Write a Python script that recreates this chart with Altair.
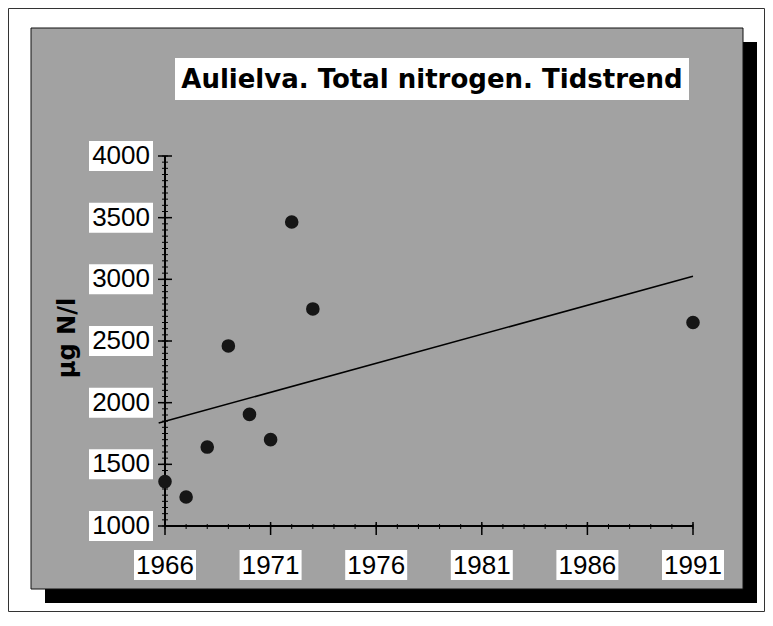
import altair as alt
import pandas as pd

# ---- data ----
years = [1966, 1967, 1968, 1969, 1970, 1971, 1972, 1973, 1991]
nitrogen = [1360, 1235, 1640, 2460, 1905, 1700, 3465, 2760, 2650]
trend_years = [1965.7, 1991]
trend_values = [1835, 3025]
x_ticks = [1966, 1971, 1976, 1981, 1986, 1991]
y_ticks = [1000, 1500, 2000, 2500, 3000, 3500, 4000]
y_minor = list(range(1000, 4001, 50))
x_minor = list(range(1966, 1992))
title_text = "Aulielva. Total nitrogen. Tidstrend"
y_title = "µg N/l"

W, H = 528, 370
xs = alt.Scale(domain=[1966, 1991], nice=False, zero=False)
ys = alt.Scale(domain=[1000, 4000], nice=False, zero=False)
one = alt.Data(values=[{"k": 1}])


def box(x1, x2, y1, y2, fill, stroke=None, sw=0):
    kw = dict(fill=fill)
    if stroke:
        kw.update(stroke=stroke, strokeWidth=sw)
    return alt.Chart(one).mark_rect(**kw).encode(
        x=alt.value(x1), x2=alt.value(x2), y=alt.value(y1), y2=alt.value(y2)
    )


frame = box(-156.5, 599.5, -147.5, 455.5, "white", "#333", 1)
shadow = box(-120, 592, -114, 447, "black")
panel = box(-134, 578, -128, 433, "#a2a2a2", "#111", 1)
title_box = box(10, 524, -98, -56, "white")
title = alt.Chart(one).mark_text(
    text=title_text, font="DejaVu Sans", fontWeight="bold", fontSize=26,
    align="center", baseline="middle", color="black"
).encode(x=alt.value(267), y=alt.value(-76))

ytitle = alt.Chart(one).mark_text(
    text=y_title, font="DejaVu Sans", fontWeight="bold", fontSize=24,
    align="center", baseline="middle", angle=270, color="black"
).encode(x=alt.value(-97), y=alt.value(182))

pts = pd.DataFrame({"year": years, "value": nitrogen})
trend = pd.DataFrame({"year": trend_years, "value": trend_values})
yt = pd.DataFrame({"v": y_ticks})
ym = pd.DataFrame({"v": y_minor})
xt = pd.DataFrame({"yr": x_ticks})
xm = pd.DataFrame({"yr": x_minor})

X = lambda f: alt.X(f, scale=xs, axis=None)
Y = lambda f: alt.Y(f, scale=ys, axis=None)

ylab_box = alt.Chart(yt).mark_rect(fill="white", yOffset=-15, y2Offset=15).encode(
    y=Y("v:Q"), y2=alt.Y2("v"), x=alt.value(-76), x2=alt.value(-12)
)
ylab = alt.Chart(yt).mark_text(
    align="right", baseline="middle", font="Liberation Sans", fontSize=26, color="black"
).encode(y=Y("v:Q"), x=alt.value(-15), text=alt.Text("v:Q", format="d"))

xlab_box = alt.Chart(xt).mark_rect(fill="white", xOffset=-31, x2Offset=31).encode(
    x=X("yr:Q"), x2=alt.X2("yr"), y=alt.value(394), y2=alt.value(424)
)
xlab = alt.Chart(xt).mark_text(
    align="center", baseline="middle", font="Liberation Sans", fontSize=26, color="black"
).encode(x=X("yr:Q"), y=alt.value(410), text=alt.Text("yr:Q", format="d"))

axis_df = pd.DataFrame({"x": [1966], "x2": [1991], "y": [1000], "y2": [4000]})
yaxis = alt.Chart(axis_df).mark_rule(color="black", strokeWidth=2).encode(
    x=X("x:Q"), y=Y("y:Q"), y2=alt.Y2("y2")
)
xaxis = alt.Chart(axis_df).mark_rule(color="black", strokeWidth=2).encode(
    y=Y("y:Q"), x=X("x:Q"), x2=alt.X2("x2")
)
ymaj = alt.Chart(yt).mark_rule(color="black", strokeWidth=1.5).encode(
    y=Y("v:Q"), x=alt.value(-7), x2=alt.value(7)
)
ymin = alt.Chart(ym).mark_rule(color="black", strokeWidth=1).encode(
    y=Y("v:Q"), x=alt.value(-3), x2=alt.value(3)
)
xmaj = alt.Chart(xt).mark_rule(color="black", strokeWidth=1.5).encode(
    x=X("yr:Q"), y=alt.value(H - 4), y2=alt.value(H + 9)
)
xmin = alt.Chart(xm).mark_rule(color="black", strokeWidth=1).encode(
    x=X("yr:Q"), y=alt.value(H - 2), y2=alt.value(H + 3)
)

line = alt.Chart(trend).mark_line(color="black", strokeWidth=1.6).encode(
    x=X("year:Q"), y=Y("value:Q")
)
points = alt.Chart(pts).mark_point(
    filled=True, shape="circle", size=185, color="#161616", opacity=1
).encode(x=X("year:Q"), y=Y("value:Q"))

chart = alt.layer(
    frame, shadow, panel, title_box, title, ytitle,
    ylab_box, ylab, xlab_box, xlab,
    yaxis, xaxis, ymin, ymaj, xmin, xmaj, line, points
).properties(
    width=W, height=H,
    padding={"left": 157, "top": 148, "right": 72, "bottom": 86},
    autosize=alt.AutoSizeParams(type="none"),
    background="white",
).configure_view(stroke=None)

chart.save("out.html", embed_options={"renderer": "svg", "actions": False})
